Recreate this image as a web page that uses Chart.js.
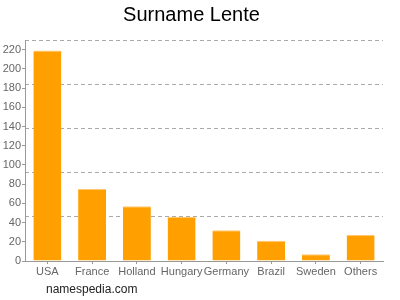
<!DOCTYPE html>
<html>
<head>
<meta charset="utf-8">
<script src="https://cdn.jsdelivr.net/npm/chart.js@4"></script>
<style>
  html, body { margin: 0; padding: 0; background: #fff; }
  #c { display: block; }
</style>
</head>
<body>
<canvas id="c" width="400" height="300"></canvas>
<script>
const categories = ["USA", "France", "Holland", "Hungary", "Germany", "Brazil", "Sweden", "Others"];
const counts = [219, 75, 57, 46, 32, 21, 7, 27];
const yMax = 230;
const yTickStep = 20;
const gridStep = 46;
const titleText = "Surname Lente";
const footerText = "namespedia.com";

const FONT = "'Liberation Sans', Arial, Helvetica, sans-serif";

const footerPlugin = {
  id: 'footerText',
  afterDraw(chart) {
    const ctx = chart.ctx;
    ctx.save();
    ctx.font = "12px " + FONT;
    ctx.fillStyle = "#222";
    ctx.textAlign = "left";
    ctx.textBaseline = "alphabetic";
    ctx.fillText(footerText, 46, 293);
    ctx.restore();
  }
};

new Chart(document.getElementById('c'), {
  type: 'bar',
  data: {
    labels: categories,
    datasets: [{
      data: counts,
      backgroundColor: '#ffa000',
      borderColor: '#ffc870',
      borderWidth: { top: 1, left: 0, right: 0, bottom: 0 },
      borderSkipped: 'bottom',
      barPercentage: 0.626,
      categoryPercentage: 1.0
    }]
  },
  options: {
    responsive: false,
    animation: false,
    devicePixelRatio: 1,
    layout: { padding: { left: 0, right: 17, top: 0, bottom: 0 } },
    plugins: {
      legend: { display: false },
      tooltip: { enabled: false },
      title: {
        display: true,
        text: titleText,
        color: '#000',
        font: { family: FONT, size: 20, weight: 'normal', lineHeight: 1.2 },
        padding: { top: 3, bottom: 13 }
      }
    },
    scales: {
      x: {
        grid: {
          display: true,
          drawOnChartArea: false,
          drawTicks: true,
          tickLength: 3,
          offset: false,
          color: '#999'
        },
        border: { display: true, color: '#999' },
        ticks: {
          color: '#666',
          font: { family: FONT, size: 11 },
          padding: 1,
          maxRotation: 0,
          autoSkip: false
        },
        afterFit(scale) { scale.height = 39; }
      },
      y: {
        min: 0,
        max: yMax,
        position: 'left',
        grid: {
          display: true,
          drawOnChartArea: false,
          drawTicks: true,
          tickLength: 3,
          color: '#999'
        },
        border: { display: true, color: '#999' },
        ticks: {
          stepSize: yTickStep,
          includeBounds: false,
          color: '#666',
          font: { family: FONT, size: 11 },
          padding: 1
        },
        afterFit(scale) { scale.width = 25; }
      },
      yg: {
        min: 0,
        max: yMax,
        position: 'right',
        grid: {
          display: true,
          drawOnChartArea: true,
          drawTicks: false,
          color: '#aaa',
          lineWidth: 1
        },
        border: { display: false, dash: [4, 3] },
        ticks: { display: false, stepSize: gridStep, includeBounds: false },
        afterFit(scale) { scale.width = 0; }
      }
    }
  },
  plugins: [footerPlugin]
});
</script>
</body>
</html>
